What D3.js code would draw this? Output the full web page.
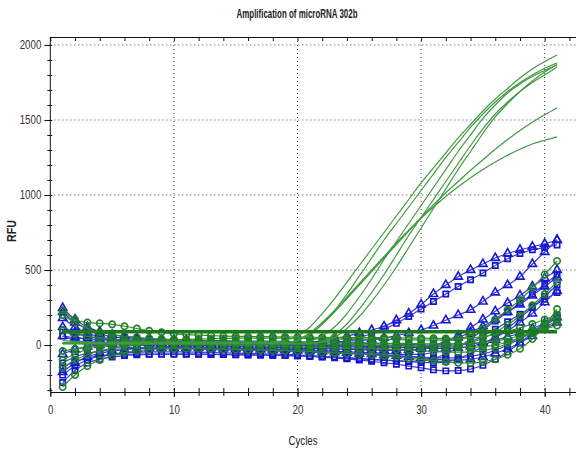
<!DOCTYPE html>
<html><head><meta charset="utf-8">
<script src="https://cdn.jsdelivr.net/npm/d3@7"></script>
<style>
html,body{margin:0;padding:0;background:#fff;}
svg{display:block;}
text{font-family:"Liberation Sans","Arial",sans-serif;}
</style></head>
<body>
<svg id="chart" width="576" height="449"></svg>
<script>
// ---------- DATA ----------
const cycles = d3.range(1, 42); // 1..41
const xMajorTicks = [0, 10, 20, 30, 40];
const yMajorTicks = [0, 500, 1000, 1500, 2000];
const titleText = "Amplification of microRNA 302b";
const xLabel = "Cycles";
const yLabel = "RFU";
const thresholdValue = 88;

// green amplification curves (no markers)
const greenCurve1 = [30,25,22,20,20,20,20,20,20,20,20,20,20,20,20,20,20,20,30,60,120,210,310,420,530,640,750,860,970,1080,1180,1280,1380,1470,1560,1640,1710,1780,1840,1890,1933];
const greenCurve2 = [15,15,15,15,15,15,15,15,15,15,15,15,15,15,15,15,15,15,15,30,70,140,230,340,460,580,700,810,920,1030,1140,1250,1350,1450,1540,1620,1690,1750,1800,1845,1880];
const greenCurve3 = [10,10,10,10,10,10,10,10,10,10,10,10,10,10,10,10,10,10,10,10,25,60,120,210,320,440,570,690,810,930,1050,1170,1290,1400,1510,1600,1680,1740,1790,1830,1867];
const greenCurve4 = [10,10,10,10,10,10,10,10,10,10,10,10,10,10,10,10,10,10,10,10,10,25,70,140,240,350,470,600,730,850,970,1090,1210,1330,1440,1540,1620,1690,1750,1800,1853];
const greenCurve5 = [15,15,15,15,15,15,15,15,15,15,15,15,15,15,15,15,15,15,15,30,70,140,220,310,400,490,580,670,760,850,935,1015,1090,1165,1235,1305,1370,1430,1485,1535,1580];
const greenCurve6 = [15,15,15,15,15,15,15,15,15,15,15,15,15,15,15,15,15,15,15,35,80,150,230,320,410,500,590,680,765,845,920,990,1055,1115,1170,1220,1265,1305,1340,1365,1387];
const greenCurve7 = [10,10,10,10,10,10,10,10,10,10,10,10,10,10,10,10,10,10,10,10,10,20,50,110,190,290,400,520,650,780,910,1040,1170,1290,1410,1520,1610,1690,1760,1820,1870];

// blue triangle-marker curves
const triCurve1 = [180,120,80,55,40,30,25,20,18,15,12,10,8,6,5,5,5,5,6,10,18,30,45,60,80,100,125,165,210,270,340,400,455,500,540,580,610,635,655,675,700];
const triCurve2 = [-60,-30,-10,0,8,12,15,15,15,15,15,15,15,14,13,12,12,12,12,13,15,18,22,26,30,38,48,62,80,100,130,165,200,235,290,350,400,455,540,620,700];
const triCurve3 = [120,85,60,40,28,20,15,10,6,3,0,-3,-5,-8,-10,-12,-14,-16,-18,-20,-22,-24,-26,-28,-30,-32,-34,-35,-34,-25,-5,25,65,115,170,225,280,330,390,445,500];
const triCurve4 = [60,50,42,36,30,26,22,20,18,16,14,12,10,8,6,4,2,0,-2,-4,-6,-8,-10,-12,-14,-16,-18,-18,-16,-10,0,20,50,85,125,170,220,270,330,390,450];
const triCurve5 = [220,150,105,75,55,45,38,32,28,25,22,20,18,16,14,12,10,8,6,4,2,0,-2,-5,-8,-10,-12,-15,-18,-20,-22,-22,-20,-10,15,50,95,150,210,285,360];
const triCurve6 = [247,170,120,90,70,55,45,40,36,34,32,30,30,28,28,26,26,25,24,22,20,18,16,14,12,10,8,6,4,2,0,0,2,8,18,35,55,80,110,145,185];
const triCurve7 = [-180,-120,-80,-55,-40,-30,-24,-20,-18,-18,-18,-20,-22,-24,-26,-28,-30,-32,-34,-36,-40,-44,-48,-52,-56,-60,-66,-72,-78,-85,-92,-98,-100,-95,-80,-55,-25,15,60,105,150];

// blue square-marker curves
const sqCurve1 = [-120,-80,-55,-40,-30,-25,-20,-20,-20,-20,-22,-24,-25,-26,-28,-30,-30,-30,-28,-25,-18,-5,10,30,50,75,105,145,190,240,290,340,390,435,480,530,575,610,635,650,667];
const sqCurve2 = [-250,-170,-120,-95,-80,-70,-65,-62,-60,-60,-60,-60,-62,-62,-64,-65,-66,-68,-70,-72,-75,-78,-82,-86,-90,-95,-100,-105,-108,-105,-90,-60,-15,40,100,160,220,280,340,405,470];
const sqCurve3 = [-200,-140,-100,-75,-60,-52,-48,-45,-45,-45,-46,-48,-50,-52,-54,-56,-58,-60,-62,-65,-70,-75,-80,-85,-90,-95,-100,-105,-110,-115,-118,-110,-90,-55,-10,45,110,180,250,325,400];
const sqCurve4 = [-150,-110,-85,-72,-66,-62,-60,-60,-60,-60,-61,-62,-63,-64,-65,-66,-67,-68,-70,-72,-76,-80,-85,-92,-100,-108,-118,-128,-140,-152,-165,-172,-170,-160,-135,-95,-45,15,80,140,200];
const sqCurve5 = [60,30,10,-2,-10,-15,-18,-20,-22,-24,-26,-28,-30,-32,-34,-36,-38,-40,-42,-44,-47,-50,-53,-56,-60,-64,-68,-72,-76,-80,-84,-86,-84,-75,-60,-35,0,40,85,130,180];
const sqCurve6 = [100,60,35,20,10,4,0,-4,-8,-10,-12,-14,-16,-18,-20,-22,-24,-26,-28,-30,-33,-36,-40,-44,-48,-52,-56,-60,-62,-60,-50,-35,-10,20,60,105,155,205,255,305,350];

// green circle-marker curves
const circCurve1 = [-100,-60,-30,-10,5,15,22,28,32,35,38,40,42,44,45,46,46,46,45,44,43,42,41,40,39,38,37,36,35,34,33,34,40,65,110,170,235,300,380,470,560];
const circCurve2 = [200,150,110,85,70,60,52,45,40,36,32,28,25,22,20,18,16,14,12,10,8,6,4,2,0,-2,-4,-6,-8,-10,-10,-8,0,15,45,85,135,195,265,340,420];
const circCurve3 = [-280,-200,-140,-100,-70,-50,-38,-30,-26,-24,-24,-25,-26,-28,-30,-32,-34,-36,-38,-40,-44,-48,-52,-56,-60,-66,-72,-80,-88,-96,-104,-112,-118,-120,-112,-95,-65,-25,40,130,240];
const circCurve4 = [230,170,150,145,138,125,110,95,85,75,70,66,63,60,58,57,56,55,54,53,52,51,50,50,50,50,49,48,47,46,45,44,44,48,56,70,90,115,140,170,200];
const circCurve5 = [-150,-100,-65,-40,-22,-10,-2,4,8,10,12,12,12,12,12,11,10,9,8,7,6,5,4,3,2,1,0,-2,-4,-6,-9,-12,-14,-14,-10,0,20,48,80,120,160];
const circCurve6 = [100,75,58,48,40,35,32,30,28,27,26,25,25,24,24,23,22,21,20,19,18,17,16,15,14,13,12,11,10,9,8,8,9,12,18,28,42,60,80,105,130];
const circCurve7 = [-40,-25,-15,-8,-2,2,4,5,5,4,3,2,1,0,-2,-4,-6,-8,-10,-12,-14,-16,-18,-20,-22,-24,-27,-30,-34,-38,-42,-46,-48,-46,-38,-20,10,50,95,140,185];

const greenCurves = [greenCurve1, greenCurve2, greenCurve3, greenCurve4, greenCurve5, greenCurve6, greenCurve7];
const triCurves = [triCurve1, triCurve2, triCurve3, triCurve4, triCurve5, triCurve6, triCurve7];
const sqCurves = [sqCurve1, sqCurve2, sqCurve3, sqCurve4, sqCurve5, sqCurve6];
const circCurves = [circCurve1, circCurve2, circCurve3, circCurve4, circCurve5, circCurve6, circCurve7];

(function () {
// ---------- LAYOUT ----------
const W = 576, H = 449;
const leftX = 50.3, topY = 37, bottomY = 392;
const x = d3.scaleLinear().domain([0, 45]).range([leftX, leftX + 45 * 12.36]);
const y = d3.scaleLinear().domain([-313, 2053]).range([bottomY, topY]);
const narrow = s => String(s).length * 5.4; // condensed label widths

const svg = d3.select("#chart");
svg.append("defs").append("clipPath").attr("id", "plotClip")
  .append("rect").attr("x", leftX).attr("y", topY).attr("width", W - leftX).attr("height", bottomY - topY);

// title
svg.append("text").attr("x", 297).attr("y", 18).attr("text-anchor", "middle")
  .attr("font-size", 12).attr("font-weight", "bold").attr("fill", "#222")
  .attr("textLength", 121).attr("lengthAdjust", "spacingAndGlyphs")
  .text(titleText);

// grid
svg.append("g").attr("clip-path", "url(#plotClip)")
  .selectAll("line").data(xMajorTicks.filter(d => d > 0)).join("line")
  .attr("x1", d => x(d)).attr("x2", d => x(d)).attr("y1", topY).attr("y2", bottomY)
  .attr("stroke", "#444").attr("stroke-width", 1).attr("stroke-dasharray", "1,3");
svg.append("g").attr("clip-path", "url(#plotClip)")
  .selectAll("line").data(yMajorTicks.filter(d => d > 0)).join("line")
  .attr("x1", leftX).attr("x2", W).attr("y1", d => y(d)).attr("y2", d => y(d))
  .attr("stroke", "#444").attr("stroke-width", 1).attr("stroke-dasharray", "1,3");

// series
const plot = svg.append("g").attr("clip-path", "url(#plotClip)");
const line = d3.line().x((d, i) => x(cycles[i])).y(d => y(d)).curve(d3.curveMonotoneX);

function drawMarkerSeries(data, lineColor, markColor, symType, size) {
  data.forEach(arr => {
    plot.append("path").attr("d", line(arr)).attr("fill", "none")
      .attr("stroke", lineColor).attr("stroke-width", 1.2);
    plot.append("g").selectAll("path").data(arr).join("path")
      .attr("transform", (d, i) => `translate(${x(cycles[i])},${y(d)})`)
      .attr("d", d3.symbol().type(symType).size(size))
      .attr("fill", "none").attr("stroke", markColor).attr("stroke-width", 1.6);
  });
}
drawMarkerSeries(sqCurves, "#3c3cc8", "#1414cc", d3.symbolSquare, 28);
drawMarkerSeries(triCurves, "#3c3cc8", "#1818d8", d3.symbolTriangle, 30);
drawMarkerSeries(circCurves, "#2f8f2f", "#1f7f26", d3.symbolCircle, 32);

greenCurves.forEach(arr => {
  plot.append("path").attr("d", line(arr)).attr("fill", "none")
    .attr("stroke", "#3f9a3f").attr("stroke-width", 1.2);
});

// threshold line
plot.append("line").attr("x1", x(1)).attr("x2", x(41))
  .attr("y1", y(thresholdValue)).attr("y2", y(thresholdValue))
  .attr("stroke", "#1c7a1c").attr("stroke-width", 3.5);

// ---------- AXES ----------
const axisStyle = g => {
  g.selectAll("text").attr("font-size", 12).attr("fill", "#333")
    .attr("textLength", d => narrow(d)).attr("lengthAdjust", "spacingAndGlyphs");
  g.selectAll("line").attr("stroke", "#111");
  g.select(".domain").attr("stroke", "#111");
};
const xMinor = d3.range(0, 46, 2);
const yMinor = d3.range(-300, 2001, 100);
const fmt = d3.format("d");

svg.append("g").attr("transform", `translate(${leftX},0)`)
  .call(d3.axisLeft(y).tickValues(yMinor).tickSize(3).tickFormat("").tickSizeOuter(0))
  .call(g => g.select(".domain").remove()).call(axisStyle);
svg.append("g").attr("transform", `translate(${leftX},0)`)
  .call(d3.axisRight(y).tickValues(yMinor).tickSize(2).tickFormat("").tickSizeOuter(0))
  .call(g => g.select(".domain").remove()).call(axisStyle);
svg.append("g").attr("transform", `translate(${leftX},0)`)
  .call(d3.axisLeft(y).tickValues(yMajorTicks).tickFormat(fmt).tickSize(6).tickPadding(3).tickSizeOuter(0))
  .call(g => g.select(".domain").attr("d", `M0,${bottomY}V${topY}`)).call(axisStyle);

svg.append("g").attr("transform", `translate(0,${bottomY})`)
  .call(d3.axisBottom(x).tickValues(xMinor).tickSize(4).tickFormat("").tickSizeOuter(0))
  .call(g => g.select(".domain").remove()).call(axisStyle);
svg.append("g").attr("transform", `translate(0,${bottomY})`)
  .call(d3.axisTop(x).tickValues(xMinor).tickSize(4).tickFormat("").tickSizeOuter(0))
  .call(g => g.select(".domain").remove()).call(axisStyle);
svg.append("g").attr("transform", `translate(0,${bottomY})`)
  .call(d3.axisBottom(x).tickValues(xMajorTicks).tickFormat(fmt).tickSize(5).tickPadding(8).tickSizeOuter(0))
  .call(axisStyle);

svg.append("g").attr("transform", `translate(0,${topY})`)
  .call(d3.axisBottom(x).tickValues(xMinor).tickSize(4).tickFormat("").tickSizeOuter(0))
  .call(axisStyle);

// axis titles
svg.append("text").attr("x", 303).attr("y", 445).attr("text-anchor", "middle")
  .attr("font-size", 12).attr("fill", "#222")
  .attr("textLength", 29).attr("lengthAdjust", "spacingAndGlyphs").text(xLabel);
svg.append("text").attr("transform", "translate(16,231) rotate(-90)").attr("text-anchor", "middle")
  .attr("font-size", 12).attr("font-weight", "bold").attr("fill", "#222")
  .attr("textLength", 22).attr("lengthAdjust", "spacingAndGlyphs").text(yLabel);
})();
</script>
</body></html>
